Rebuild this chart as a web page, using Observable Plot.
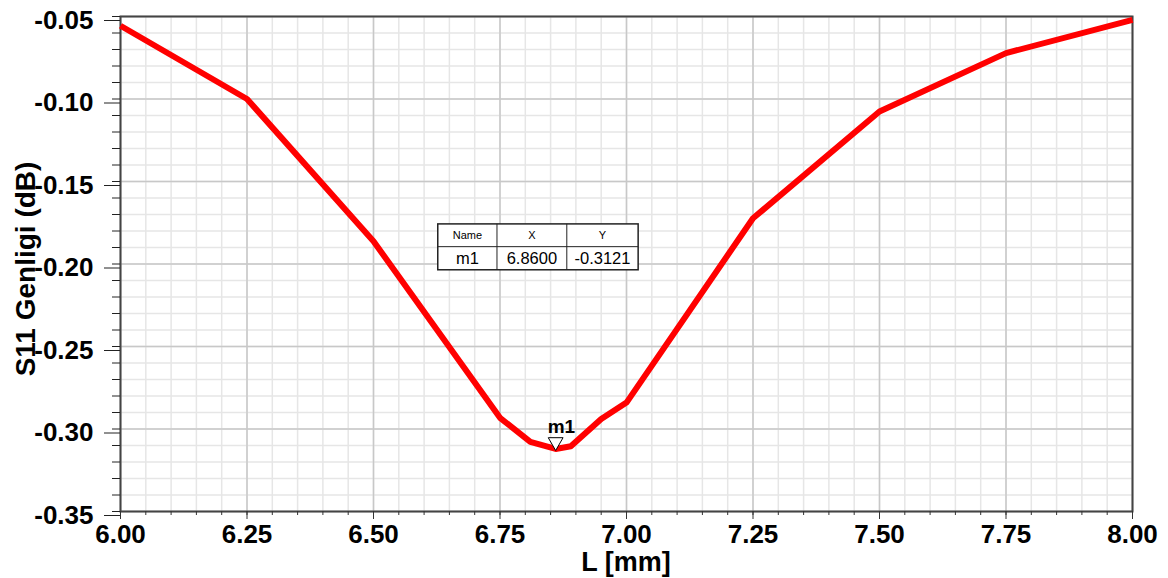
<!DOCTYPE html>
<html>
<head>
<meta charset="utf-8">
<script src="https://cdn.jsdelivr.net/npm/d3@7"></script>
<script src="https://cdn.jsdelivr.net/npm/@observablehq/plot@0.6"></script>
<style>
  html, body { margin: 0; padding: 0; background: #ffffff; }
  #chart svg { display: block; }
</style>
</head>
<body>
<div id="chart"></div>
<script>
// ---- Data ----
const lengthMm = [6.00, 6.25, 6.50, 6.75, 6.81, 6.86, 6.89, 6.95, 7.00, 7.25, 7.50, 7.75, 8.00];
const s11dB    = [-0.0556, -0.1000, -0.1862, -0.2932, -0.3078, -0.3121, -0.3105, -0.2940, -0.2840, -0.1723, -0.1076, -0.0722, -0.0520];

const xMajorTicks = [6.00, 6.25, 6.50, 6.75, 7.00, 7.25, 7.50, 7.75, 8.00];
const yMajorTicks = [-0.35, -0.30, -0.25, -0.20, -0.15, -0.10, -0.05];
const xMinorTicks = d3.range(0, 41).map(i => +(6 + i * 0.05).toFixed(2));
const yMinorTicks = d3.range(0, 31).map(i => +(-0.35 + i * 0.01).toFixed(2));

const markerName = "m1";
const markerX = 6.86;
const markerY = -0.3121;
const tableHeader = ["Name", "X", "Y"];
const tableRow = ["m1", "6.8600", "-0.3121"];

const yTitle = "S11 Genligi (dB)";
const xTitle = "L [mm]";

const data = lengthMm.map((x, i) => ({x, y: s11dB[i]}));
const fmt = d => d.toFixed(2);
const FONT = "'Liberation Sans', Arial, Helvetica, sans-serif";

const plot = Plot.plot({
  width: 1168,
  height: 578,
  marginLeft: 120,
  marginRight: 36,
  marginTop: 16,
  marginBottom: 67,
  x: {domain: [6, 8]},
  y: {domain: [-0.35, -0.05]},
  style: {fontFamily: FONT, background: "#ffffff", color: "#000"},
  marks: [
    Plot.gridX(xMinorTicks, {stroke: "#e6e6e6", strokeOpacity: 1, strokeWidth: 1.5}),
    Plot.gridY(yMinorTicks, {stroke: "#e6e6e6", strokeOpacity: 1, strokeWidth: 1.5}),
    Plot.gridX(xMajorTicks, {stroke: "#c8c8c8", strokeOpacity: 1, strokeWidth: 1.5}),
    Plot.gridY(yMajorTicks, {stroke: "#c8c8c8", strokeOpacity: 1, strokeWidth: 1.5}),
    Plot.frame({stroke: "#444", strokeWidth: 2}),
    Plot.axisY(yMinorTicks, {tickSize: 8, tickFormat: () => "", label: null, stroke: "#222"}),
    Plot.axisY(yMajorTicks, {tickSize: 16, tickPadding: 11, tickFormat: fmt, label: null,
      fontSize: 26, fontWeight: "bold", fill: "#000", stroke: "#222", dy: 4}),
    Plot.axisX(xMinorTicks, {tickSize: 4, tickFormat: () => "", label: null, stroke: "#333"}),
    Plot.axisX(xMajorTicks, {tickSize: 8, tickPadding: 5, tickFormat: fmt, label: null,
      fontSize: 26, fontWeight: "bold", fill: "#000", stroke: "#333"}),
    Plot.line(data, {x: "x", y: "y", stroke: "#ff0000", strokeWidth: 6, strokeLinejoin: "round", strokeLinecap: "butt"}),
    Plot.dot([{x: markerX, y: markerY}], {x: "x", y: "y", symbol: "triangle", rotate: 180, r: 5.5,
      dy: -7, fill: "#ffffff", stroke: "#000", strokeWidth: 1}),
    Plot.text([{x: markerX, y: markerY}], {x: "x", y: "y", text: () => markerName, dx: -8, dy: -22,
      textAnchor: "start", fontSize: 19, fontWeight: "bold", fill: "#000"})
  ]
});

document.getElementById("chart").appendChild(plot);

// ---- Annotations: axis titles and marker table ----
const svg = d3.select(plot);
const sx = plot.scale("x");
const sy = plot.scale("y");

svg.append("text")
  .attr("transform", "translate(35,269) rotate(-90)")
  .attr("text-anchor", "middle")
  .attr("font-family", FONT)
  .attr("font-size", 28)
  .attr("font-weight", "bold")
  .attr("fill", "#000")
  .text(yTitle);

svg.append("text")
  .attr("x", (sx.apply(6) + sx.apply(8)) / 2)
  .attr("y", 571)
  .attr("text-anchor", "middle")
  .attr("font-family", FONT)
  .attr("font-size", 27)
  .attr("font-weight", "bold")
  .attr("fill", "#000")
  .text(xTitle);

// marker table placed in data coordinates
const colEdges = [6.628, 6.745, 6.883, 7.024].map(v => sx.apply(v));
const rowEdges = [-0.176, -0.1898, -0.2038].map(v => sy.apply(v));
const tbl = svg.append("g").attr("font-family", FONT).attr("fill", "#000");
tbl.append("rect")
  .attr("x", colEdges[0]).attr("y", rowEdges[0])
  .attr("width", colEdges[3] - colEdges[0]).attr("height", rowEdges[2] - rowEdges[0])
  .attr("fill", "#fff").attr("stroke", "#222").attr("stroke-width", 1.5);
tbl.append("line").attr("x1", colEdges[0]).attr("x2", colEdges[3])
  .attr("y1", rowEdges[1]).attr("y2", rowEdges[1]).attr("stroke", "#222").attr("stroke-width", 1);
[1, 2].forEach(i => tbl.append("line").attr("x1", colEdges[i]).attr("x2", colEdges[i])
  .attr("y1", rowEdges[0]).attr("y2", rowEdges[2]).attr("stroke", "#222").attr("stroke-width", 1));
tableHeader.forEach((t, i) => tbl.append("text")
  .attr("x", (colEdges[i] + colEdges[i + 1]) / 2).attr("y", (rowEdges[0] + rowEdges[1]) / 2 + 4)
  .attr("text-anchor", "middle").attr("font-size", 11).text(t));
tableRow.forEach((t, i) => tbl.append("text")
  .attr("x", (colEdges[i] + colEdges[i + 1]) / 2).attr("y", (rowEdges[1] + rowEdges[2]) / 2 + 6)
  .attr("text-anchor", "middle").attr("font-size", 16.5).text(t));
</script>
</body>
</html>
